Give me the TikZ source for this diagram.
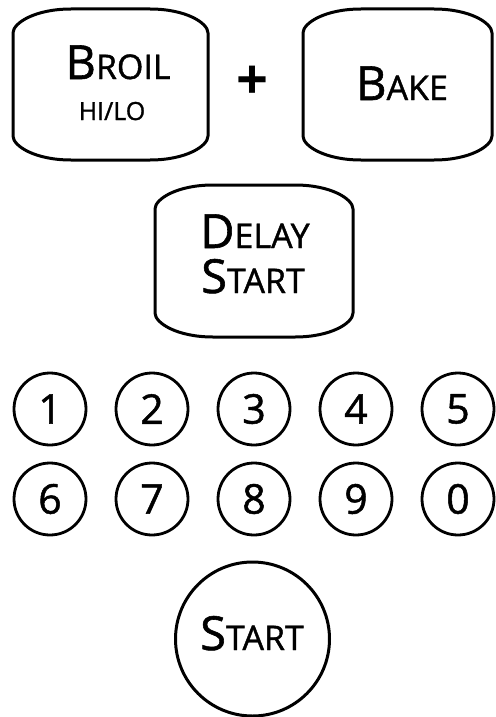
\documentclass[tikz,border=0pt]{standalone}
\usepackage{fontspec}
\setmainfont{Open Sans}[FakeBold=1.2]
\newfontfamily\plusfont{Open Sans Bold}
\newcommand\bigL[1]{{\fontsize{47}{47}\selectfont #1}}
\newcommand\smL[1]{{\fontsize{34}{34}\selectfont #1}}
\newcommand\keyshape[4]{%
  \draw[btn] (#1,#2+24) .. controls (#1,#2+14) and (#1+22,#2) .. (#1+58,#2)
    -- (#3-58,#2) .. controls (#3-22,#2) and (#3,#2+14) .. (#3,#2+24)
    -- (#3,#4-24) .. controls (#3,#4-14) and (#3-22,#4) .. (#3-58,#4)
    -- (#1+58,#4) .. controls (#1+22,#4) and (#1,#4-14) .. (#1,#4-24) -- cycle;}
\begin{document}
\begin{tikzpicture}[x=1pt,y=-1pt,
  btn/.style={line width=3pt, line join=round},
  num/.style={circle, draw, line width=2.8pt, minimum size=72pt, inner sep=0pt,
    font=\fontsize{41}{41}\selectfont},
  lbl/.style={anchor=base, inner sep=0pt}]
\useasboundingbox (0,0) rectangle (495,717);
% top keys
\keyshape{13}{9}{208}{160}
\keyshape{303}{9}{492}{160}
\keyshape{155}{185}{353}{337}
\node[lbl] (broil) at (118,79) {\bigL{B}\smL{ROIL}};
\node[lbl] (hilo) at (112,120) {\fontsize{25}{25}\selectfont HI/LO};
\node[lbl] (plus) at (252,99) {\fontsize{56}{56}\plusfont +};
\node[lbl] (bake) at (402,100) {\bigL{B}\smL{AKE}};
\node[lbl] (delay) at (255,248) {\bigL{D}\smL{ELAY}};
\node[lbl] (dstart) at (253,293) {\bigL{S}\smL{TART}};
% digits
\foreach \d [count=\i from 0] in {1,2,3,4,5} {
  \node[num] (n\d) at (50+102*\i,409) {\d};
}
\foreach \d [count=\i from 0] in {6,7,8,9,0} {
  \node[num] (n\d) at (50+102*\i,499) {\d};
}
% start
\node[circle, draw, line width=3pt, minimum size=154pt, inner sep=0pt] (startc) at (252.5,639) {};
\node[lbl] (start) at (252,650) {\bigL{S}\smL{TART}};
\end{tikzpicture}
\end{document}
